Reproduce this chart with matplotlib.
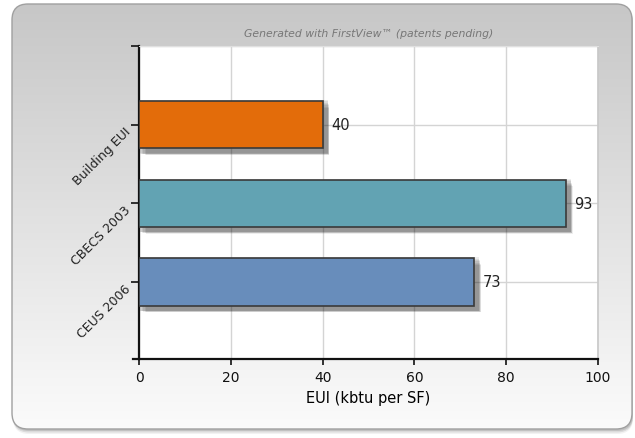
import numpy as np
import matplotlib
matplotlib.use('Agg')
import matplotlib.pyplot as plt
from matplotlib.patches import FancyBboxPatch, Rectangle

# chart data
categories = ['Building EUI', 'CBECS 2003', 'CEUS 2006']
values = [40, 93, 73]
bar_colors = ['#e36c0a', '#62a3b3', '#688dbb']
x_ticks = [0, 20, 40, 60, 80, 100]

W, H = 635, 439
fig = plt.figure(figsize=(W / 100, H / 100), dpi=100)
fig.patch.set_facecolor('white')

# background panel with rounded corners and vertical gradient
bg = fig.add_axes([0, 0, 1, 1])
bg.set_xlim(0, W)
bg.set_ylim(H, 0)
bg.axis('off')

px0, py0, px1, py1 = 12, 5, 632, 430
for k, a in enumerate([0.5, 0.3, 0.15]):
    sh = FancyBboxPatch((px0 + 1, py0 + 2 + k * 1.5), px1 - px0, py1 - py0,
                        boxstyle='round,pad=0,rounding_size=16',
                        fc='#a8a8a8', ec='none', alpha=a)
    bg.add_patch(sh)
panel = FancyBboxPatch((px0, py0), px1 - px0, py1 - py0,
                       boxstyle='round,pad=0,rounding_size=16',
                       fc='none', ec='#a0a0a0', lw=1.0, zorder=3)
bg.add_patch(panel)
grad = np.linspace(0, 1, 256).reshape(-1, 1)
top_c = np.array([0.78, 0.78, 0.78])
bot_c = np.array([0.985, 0.985, 0.985])
img = top_c + (bot_c - top_c) * grad
img = np.repeat(img[:, None, :], 2, axis=1).reshape(256, 2, 3)
im = bg.imshow(img, extent=(px0, px1, py1, py0), aspect='auto', zorder=2)
im.set_clip_path(panel)

# main plot
left, right, top, bottom = 139, 598, 47, 360
ax = fig.add_axes([left / W, 1 - bottom / H, (right - left) / W, (bottom - top) / H])
ax.set_facecolor('white')

ypos = np.arange(len(categories))
bar_h = 0.6
xpx = 100 / (right - left)   # data units per pixel, x
ypx = 3.98 / (bottom - top)  # data units per pixel, y

# soft drop shadows
for k in range(7):
    off = 2 + k * 0.8
    grow = 3 - k * 0.5
    for y, v in zip(ypos, values):
        ax.add_patch(Rectangle((off * xpx - grow * xpx, y - bar_h / 2 + off * ypx - grow * ypx),
                               v + 2 * grow * xpx, bar_h + 2 * grow * ypx,
                               fc='black', ec='none', alpha=0.07, zorder=2))

ax.barh(ypos, values, height=bar_h, color=bar_colors, edgecolor='#3a3a3a',
        linewidth=1.2, zorder=3)
for y, v in zip(ypos, values):
    ax.text(v + 1.8, y, str(v), va='center', ha='left', fontsize=10.5,
            color='#222222', zorder=4)

ax.set_xlim(0, 100)
ax.set_ylim(2.98, -1.0)
ax.set_xticks(x_ticks)
ax.set_xticklabels([str(t) for t in x_ticks], fontsize=10, color='#111111')
ax.set_yticks(list(ypos) + [-1.0])
ax.set_yticklabels(categories + [''], rotation=45, fontsize=9,
                   ha='right', va='top', rotation_mode='anchor', color='#222222')
ax.tick_params(axis='y', length=6, width=1.3, pad=5, color='#222222')
ax.tick_params(axis='x', length=4, width=1.3, pad=4, color='#222222')
ax.grid(True, color='#d4d4d4', linewidth=1.0, zorder=0)
ax.set_axisbelow(True)

for s in ['left', 'bottom']:
    ax.spines[s].set_linewidth(1.6)
    ax.spines[s].set_color('#111111')
ax.spines['top'].set_color('#e0e0e0')
ax.spines['right'].set_color('#c8c8c8')
ax.spines['right'].set_linewidth(1.2)

# x-axis line extends a bit left of zero
ax.plot([-1.3, 0], [2.98, 2.98], color='#111111', lw=1.6, clip_on=False, zorder=5)

ax.set_xlabel('EUI (kbtu per SF)', fontsize=10.5, labelpad=4)
ax.set_title('Generated with FirstView\u2122 (patents pending)', fontsize=7.8,
             style='italic', color='#777777', pad=7)

fig.savefig('out.png', dpi=100, facecolor='white')
